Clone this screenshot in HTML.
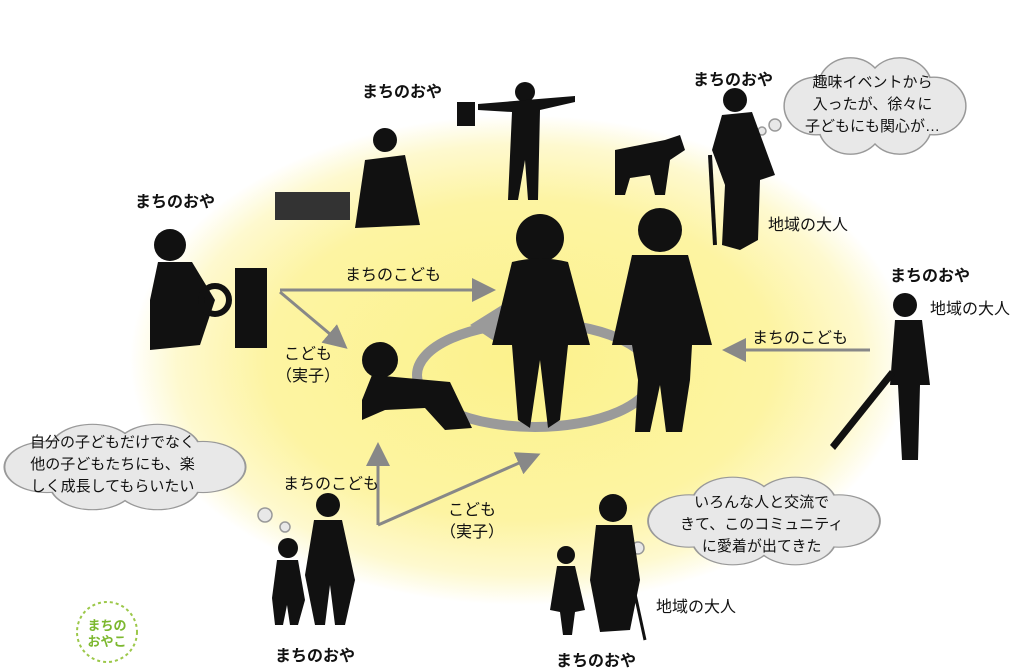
<!DOCTYPE html>
<html><head><meta charset="utf-8">
<style>
body{margin:0;width:1035px;height:670px;background:#fff;overflow:hidden;position:relative;font-family:"Liberation Sans","Noto Sans CJK JP",sans-serif;}
.t{position:absolute;font-size:16px;color:#111;white-space:nowrap;}
.b{font-weight:bold;font-size:16px;}
.c{text-align:center;line-height:22px;font-size:15px;}
</style></head><body>
<svg width="1035" height="670" style="position:absolute;left:0;top:0">
<defs>
<radialGradient id="g" cx="0.5" cy="0.5" r="0.5">
<stop offset="0" stop-color="#fcf28c"/><stop offset="0.65" stop-color="#fdf4a2"/><stop offset="0.88" stop-color="#fef9cf"/><stop offset="1" stop-color="#ffffff"/>
</radialGradient>
<marker id="ar" markerWidth="8" markerHeight="8" refX="6" refY="4" orient="auto"><path d="M0,0 L8,4 L0,8 z" fill="#888"/></marker>
<g id="cl">
<circle cx="-60" cy="0" r="32"/><circle cx="-25" cy="-22" r="32"/><circle cx="25" cy="-22" r="32"/><circle cx="60" cy="0" r="32"/><circle cx="25" cy="22" r="32"/><circle cx="-25" cy="22" r="32"/><ellipse cx="0" cy="0" rx="70" ry="38"/>
</g>
</defs>
<ellipse cx="520" cy="360" rx="390" ry="245" fill="url(#g)"/>
<ellipse cx="535" cy="375" rx="118" ry="52" fill="none" stroke="#9a9a9a" stroke-width="10"/>
<path d="M470,325 L510,300 L500,345 z" fill="#9a9a9a"/>
<g stroke="#888" stroke-width="3" fill="none" marker-end="url(#ar)">
<line x1="280" y1="290" x2="490" y2="290"/>
<line x1="280" y1="292" x2="343" y2="345"/>
<line x1="870" y1="350" x2="728" y2="350"/>
<line x1="378" y1="525" x2="378" y2="448"/>
<line x1="378" y1="525" x2="535" y2="456"/>
</g>
<g stroke="#999" stroke-width="3" fill="#999">
<use href="#cl" transform="translate(875,106) scale(0.98,0.88)"/>
<use href="#cl" transform="translate(125,467) scale(1.3,0.78)"/>
<use href="#cl" transform="translate(764,521) scale(1.25,0.8)"/>
</g>
<g fill="#e8e8e8">
<use href="#cl" transform="translate(875,106) scale(0.98,0.88)"/>
<use href="#cl" transform="translate(125,467) scale(1.3,0.78)"/>
<use href="#cl" transform="translate(764,521) scale(1.25,0.8)"/>
</g>
<g fill="#e8e8e8" stroke="#999" stroke-width="1.5">
<circle cx="775" cy="125" r="6"/><circle cx="762" cy="131" r="4"/>
<circle cx="265" cy="515" r="7"/><circle cx="285" cy="527" r="5"/>
<circle cx="638" cy="548" r="6"/><circle cx="627" cy="551" r="4"/>
</g>
<g fill="#111">
<circle cx="540" cy="238" r="24"/><path d="M512,262 Q540,255 568,262 L590,345 L568,345 L560,420 L548,428 L540,360 L530,428 L518,420 L512,345 L492,345 z"/>
<circle cx="660" cy="230" r="22"/><path d="M632,255 L688,255 L712,345 L692,345 L690,380 L682,432 L666,432 L660,385 L650,432 L635,432 L638,380 L632,345 L612,345 z"/>
<circle cx="380" cy="360" r="18"/><path d="M372,375 L450,382 L472,428 L445,430 L425,408 L385,410 L362,420 L362,400 z"/>
<circle cx="525" cy="92" r="10"/><path d="M478,104 L575,96 L575,102 L540,110 L538,200 L528,200 L525,160 L518,200 L508,200 L512,112 L478,110 z"/>
<rect x="457" y="102" width="18" height="24"/>
<circle cx="385" cy="140" r="12"/><path d="M365,160 L405,155 L420,225 L355,228 z"/>
<rect x="275" y="192" width="75" height="28" fill="#333"/>
<circle cx="170" cy="245" r="16"/><path d="M158,262 L192,262 L215,300 L200,345 L150,350 L150,300 z"/>
<rect x="235" y="268" width="32" height="80"/><circle cx="215" cy="300" r="14" fill="none" stroke="#111" stroke-width="6"/>
<path d="M615,150 L665,140 L680,135 L685,150 L670,160 L665,195 L655,195 L650,175 L630,178 L625,195 L615,195 z"/>
<circle cx="735" cy="100" r="12"/><path d="M722,115 L752,112 L775,175 L760,180 L758,240 L740,250 L722,245 L725,185 L712,150 z"/>
<line x1="710" y1="155" x2="715" y2="245" stroke="#111" stroke-width="4"/>
<circle cx="905" cy="305" r="12"/><path d="M895,320 L922,320 L930,385 L920,385 L918,460 L902,460 L898,385 L890,385 z"/>
<path d="M895,375 L835,450 L830,445 L890,370 z"/>
<circle cx="328" cy="505" r="12"/><path d="M314,520 L342,520 L355,580 L345,625 L335,625 L330,585 L325,625 L315,625 L305,575 z"/>
<circle cx="288" cy="548" r="10"/><path d="M277,560 L298,560 L305,600 L298,625 L290,625 L287,605 L283,625 L275,625 L272,598 z"/>
<circle cx="613" cy="508" r="14"/><path d="M596,525 L632,525 L640,580 L630,630 L600,632 L590,580 z"/>
<line x1="632" y1="580" x2="645" y2="640" stroke="#111" stroke-width="3"/>
<circle cx="566" cy="555" r="9"/><path d="M557,566 L575,566 L585,610 L575,612 L572,635 L563,635 L560,612 L550,610 z"/>
</g>
<circle cx="107" cy="632" r="30" fill="none" stroke="#9cc84a" stroke-width="2" stroke-dasharray="3 3"/>
<text x="107" y="630" font-size="13" font-weight="bold" fill="#7cb82f" text-anchor="middle" font-family="Liberation Sans,Noto Sans CJK JP,sans-serif">まちの</text>
<text x="107" y="646" font-size="13" font-weight="bold" fill="#7cb82f" text-anchor="middle" font-family="Liberation Sans,Noto Sans CJK JP,sans-serif">おやこ</text>
</svg>
<div class="t b" style="left:362px;top:78px">まちのおや</div>
<div class="t b" style="left:135px;top:188px">まちのおや</div>
<div class="t b" style="left:693px;top:66px">まちのおや</div>
<div class="t b" style="left:890px;top:262px">まちのおや</div>
<div class="t b" style="left:275px;top:642px">まちのおや</div>
<div class="t b" style="left:556px;top:647px">まちのおや</div>
<div class="t" style="left:768px;top:211px">地域の大人</div>
<div class="t" style="left:930px;top:295px">地域の大人</div>
<div class="t" style="left:656px;top:593px">地域の大人</div>
<div class="t" style="left:345px;top:261px">まちのこども</div>
<div class="t" style="left:752px;top:324px">まちのこども</div>
<div class="t" style="left:283px;top:470px">まちのこども</div>
<div class="t c" style="left:276px;top:344px;font-size:16px">こども<br>（実子）</div>
<div class="t c" style="left:440px;top:500px;font-size:16px">こども<br>（実子）</div>
<div class="t c" style="left:805px;top:72px">趣味イベントから<br>入ったが、徐々に<br>子どもにも関心が…</div>
<div class="t c" style="left:30px;top:432px">自分の子どもだけでなく<br>他の子どもたちにも、楽<br>しく成長してもらいたい</div>
<div class="t c" style="left:680px;top:492px">いろんな人と交流で<br>きて、このコミュニティ<br>に愛着が出てきた</div>
</body></html>
